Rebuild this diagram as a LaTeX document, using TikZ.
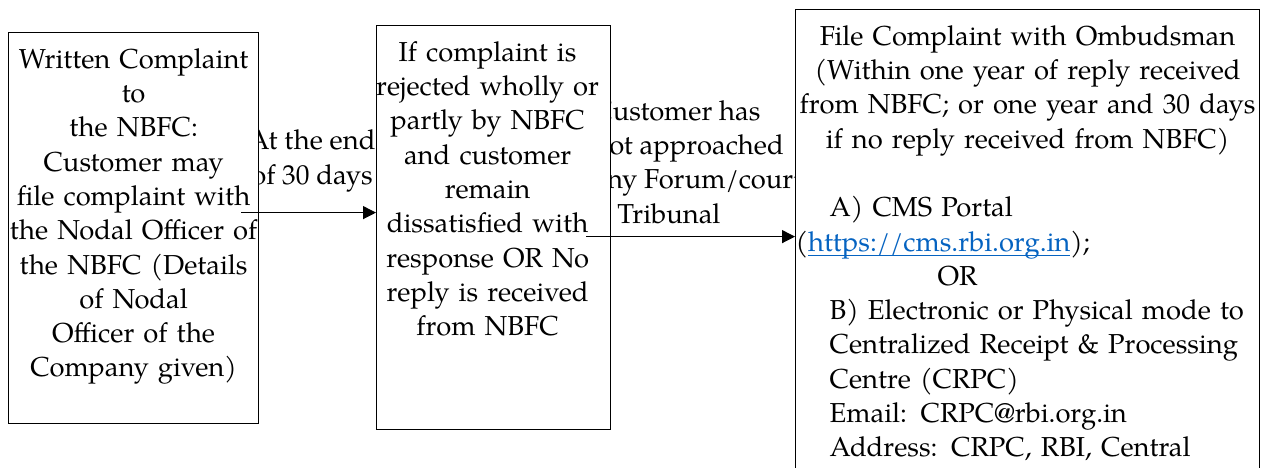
\documentclass[tikz,border=0pt]{standalone}
\usepackage{fontspec}
\setmainfont{texgyrepagella}[Extension=.otf,UprightFont=*-regular]
\usepackage{tikz}
\usetikzlibrary{arrows.meta}
\usetikzlibrary{positioning}
\definecolor{linkblue}{RGB}{5,99,193}
\newcommand{\rbilink}[1]{\textcolor{linkblue}{\setbox0\hbox{#1}\rlap{\rule[-2.4pt]{\wd0}{0.6pt}}\box0}}

\begin{document}
\begin{tikzpicture}[x=0.5pt,y=-0.5pt,>={Triangle[length=6.5pt,width=6.5pt]},
box/.style={draw,rectangle,fill=white,line width=0.6pt,anchor=north west},
boxtext/.style={align=center,inner sep=0pt,font=\fontsize{13.7}{17.15}\selectfont},
cond/.style={inner sep=0pt,font=\fontsize{13.7}{17.15}\selectfont}]

\useasboundingbox (0,0) rectangle (1261,467);
\clip (0,0) rectangle (1261,467);

% feltetelek a nyilak folott
\node[cond,align=center] (wait) at (312,161) {At the end\\of 30 days};
\node[cond,align=left,anchor=west] (noforum) at (593,162) {Customer has\\not approached\\any Forum/court\\\hspace*{12pt}Tribunal};

% dobozok
\node[box,minimum width=125pt,minimum height=195.5pt] (written) at (8,32) {};
\node[box,minimum width=117pt,minimum height=202pt] (rejected) at (376,25) {};
\node[box,minimum width=232pt,minimum height=265.5pt] (ombudsman) at (795,9) {};

% szovegek
\node[boxtext,text width=130pt,below=8pt of written.north] (writtentext) {Written Complaint\\to\\the NBFC:\\Customer may\\file complaint with\\the Nodal Officer of\\the NBFC (Details\\of Nodal\\Officer of the\\Company given)};
\node[boxtext,text width=125pt,below=8pt of rejected.north,xshift=-3pt] (rejectedtext) {If complaint is\\rejected wholly or\\partly by NBFC\\and customer\\remain\\dissatisfied with\\response OR No\\reply is received\\from NBFC};
\node[boxtext,align=left,text width=232pt,below=8pt of ombudsman.north] (ombudsmantext) {\makebox[\linewidth]{File Complaint with Ombudsman}\\
\makebox[\linewidth]{(Within one year of reply received}\\
\makebox[\linewidth]{from NBFC; or one year and 30 days}\\
\makebox[\linewidth]{if no reply received from NBFC)}\\[17.15pt]
\hspace*{17pt}A) CMS Portal\\
(\rbilink{https://cms.rbi.org.in});\\
\hspace*{71pt}OR\\
\hspace*{17pt}B) Electronic or Physical mode to\\
\hspace*{17pt}Centralized Receipt \& Processing\\
\hspace*{17pt}Centre (CRPC)\\
\hspace*{17pt}Email: CRPC@rbi.org.in\\
\hspace*{17pt}Address: CRPC, RBI, Central};

% nyilak
\draw[->,line width=0.6pt] ([shift={(-9pt,7.75pt)}]written.east) coordinate (from1) -- (from1 -| rejected.west);
\draw[->,line width=0.6pt] ([shift={(-12.5pt,-4.5pt)}]rejected.east) coordinate (from2) -- (from2 -| ombudsman.west);
\end{tikzpicture}
\end{document}
